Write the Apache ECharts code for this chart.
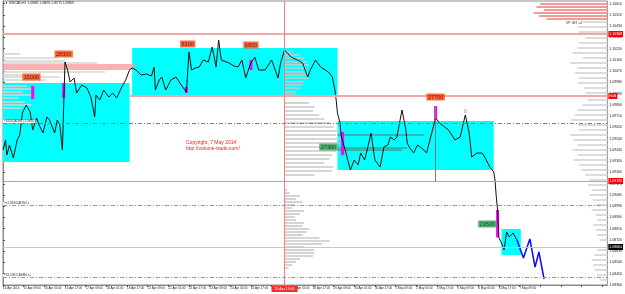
<!DOCTYPE html>
<html>
<head>
<meta charset="utf-8">
<script src="https://cdn.jsdelivr.net/npm/echarts/dist/echarts.min.js"></script>
<style>
  html, body { margin: 0; padding: 0; background: #fff; }
  #chart { width: 625px; height: 294px; }
</style>
</head>
<body>
<div id="chart"></div>
<script>
// time axis: one category label every 16 H1 bars
const timeLabels = ['14 Apr 2014', '15 Apr 09:00', '16 Apr 01:00', '16 Apr 17:00', '17 Apr 09:00',
  '18 Apr 01:00', '18 Apr 17:00', '21 Apr 09:00', '22 Apr 01:00', '22 Apr 17:00', '23 Apr 09:00',
  '24 Apr 01:00', '24 Apr 17:00', '25 Apr 09:00', '28 Apr 01:00', '28 Apr 17:00', '29 Apr 09:00',
  '30 Apr 01:00', '30 Apr 17:00', '1 May 09:00', '2 May 01:00', '2 May 17:00', '5 May 09:00',
  '6 May 01:00', '6 May 17:00', '7 May 09:00'];
const barsPerLabel = 16;
const totalBars = 468;

// [bar, price]
const pricePath = [
  [0, 1.0944], [2, 1.0952], [3, 1.094], [5, 1.0948], [8, 1.09376], [11, 1.0952], [13, 1.0956],
  [15, 1.09736], [18, 1.098], [21, 1.09744], [23, 1.096], [26, 1.09696], [28, 1.0964], [31, 1.09576],
  [34, 1.09704], [36, 1.0968], [40, 1.09576], [42, 1.0968], [44, 1.0964], [46, 1.0944], [48, 1.10144],
  [50, 1.1008], [52, 1.09984], [55, 1.10016], [57, 1.09896], [61, 1.0996], [65, 1.09936], [68, 1.09864],
  [71, 1.09704], [72, 1.0988], [75, 1.0984], [78, 1.0992], [82, 1.09864], [85, 1.09896], [88, 1.09856],
  [92, 1.09944], [95, 1.1], [98, 1.1008], [100, 1.10096],
  [103, 1.1008], [107, 1.1004], [111, 1.10048], [115, 1.10032], [117, 1.10104], [118, 1.0992], [121, 1.1],
  [123, 1.10024], [126, 1.0992], [130, 1.1], [134, 1.10024], [138, 1.0996], [142, 1.09904], [144, 1.10224],
  [146, 1.1008], [149, 1.10096], [152, 1.10104], [155, 1.1016], [159, 1.10144], [162, 1.10264],
  [165, 1.10104], [167, 1.1032], [169, 1.1016], [175, 1.10136], [179, 1.10112], [182, 1.10104],
  [185, 1.1016], [188, 1.10016], [190, 1.1008], [192, 1.10136], [195, 1.10184], [198, 1.1008],
  [203, 1.1008], [208, 1.1016], [213, 1.10016], [215, 1.10136], [218, 1.1024], [223, 1.10184],
  [228, 1.1016], [232, 1.10136], [236, 1.10024], [238, 1.1008], [242, 1.1016], [246, 1.10104],
  [252, 1.10064], [255, 1.10024], [257, 1.0992], [258, 1.0984],
  [259, 1.09736], [261, 1.09656], [262, 1.09544], [265, 1.0944], [267, 1.0936], [269, 1.0928],
  [272, 1.0936], [275, 1.0932], [277, 1.09416], [280, 1.0936], [282, 1.0944], [285, 1.09576],
  [288, 1.0936], [292, 1.09304], [295, 1.09464], [298, 1.0948], [300, 1.09544], [303, 1.0952],
  [305, 1.09544], [309, 1.0976], [312, 1.096], [313, 1.09496], [315, 1.09456], [318, 1.09416],
  [321, 1.0948], [323, 1.09464], [326, 1.0944], [328, 1.09416], [332, 1.09576], [335, 1.09696],
  [338, 1.09656], [342, 1.09624], [345, 1.096], [350, 1.0952], [354, 1.09544], [358, 1.0972],
  [361, 1.09576], [363, 1.09384], [367, 1.09416], [371, 1.09416], [373, 1.09384], [377, 1.09304],
  [380, 1.09264], [381, 1.092], [382, 1.09064], [383, 1.0896], [384, 1.0874], [386, 1.08696],
  [388, 1.0864], [390, 1.08784], [392, 1.08744], [395, 1.08776], [398, 1.0872]
];
const projection = [[398, 1.0872], [403, 1.08576], [408, 1.08728], [412, 1.08504], [415, 1.08624], [419, 1.08408]];

// [fromBar, toBar, low, high]
const zones = [[0, 98, 1.09344, 1.09976], [100, 259, 1.0988, 1.10256], [259, 380, 1.0928, 1.09672], [386, 401, 1.086, 1.08808]];
// [bar, low, high]
const spikes = [[23, 1.09848, 1.09952], [47, 1.09856, 1.09976], [142, 1.09896, 1.09944], [192, 1.1008, 1.1016],
  [263, 1.094, 1.09584], [335, 1.0968, 1.09792], [383, 1.0874, 1.0896]];

const redTags = [[22, 1.10024, '15000'], [47, 1.10208, '28300'], [143, 1.10288, '8300'], [192, 1.1028, '6800'], [335, 1.09864, '27700']];
const greenTags = [[252, 1.09464, '27300'], [375, 1.08848, '29500']];

// volume profiles: price level, volume (in bars)
const rightHotPrice = [1.10608, 1.10584, 1.1056, 1.10536, 1.10512, 1.10488];
const rightHotVol = [52, 55, 49, 57, 53, 47];
const rightPrice = [1.10464, 1.10424, 1.10384, 1.10336, 1.10296, 1.10256, 1.10216, 1.10176, 1.10136, 1.10096,
  1.10056, 1.10016, 1.09976, 1.09936, 1.09896, 1.0984, 1.098, 1.0976, 1.0972, 1.0968, 1.0964, 1.096, 1.0956,
  1.0952, 1.0948, 1.0944, 1.094, 1.0936, 1.0932, 1.0928, 1.0924, 1.092, 1.0916, 1.0912, 1.0908, 1.0904, 1.09,
  1.0896, 1.0892, 1.0888, 1.0884, 1.088, 1.0876, 1.0872, 1.0864, 1.086, 1.0856, 1.0852, 1.0848, 1.0844, 1.084];
const rightVol = [19, 23, 22, 17, 22, 23, 27, 19, 29, 23, 25, 22, 23, 18, 17, 15, 19, 23, 25, 28, 23, 22, 29,
  26, 23, 27, 23, 26, 22, 20, 17, 14, 15, 12, 14, 11, 9, 12, 9, 8, 11, 9, 8, 6, 8, 10, 12, 11, 10, 8, 6];
const midPrice = [1.10224, 1.102, 1.10176, 1.10144, 1.1012, 1.10096, 1.10064, 1.1004, 1.10016, 1.09984, 1.0996,
  1.09936, 1.09904, 1.0988, 1.09816, 1.09784, 1.09752, 1.0972, 1.09688, 1.09656, 1.09624, 1.09592, 1.0956,
  1.09528, 1.09496, 1.09464, 1.09432, 1.094, 1.09368, 1.09336, 1.09304, 1.09272, 1.0924, 1.0912, 1.09096,
  1.09072, 1.09048, 1.09024, 1.09, 1.08976, 1.08952, 1.08928, 1.08904, 1.0888, 1.08856, 1.08832, 1.08808,
  1.08784, 1.0876, 1.08736, 1.08712, 1.08688, 1.08664, 1.0864, 1.08616, 1.08592, 1.08568, 1.08544, 1.0852, 1.08496];
const midVol = [6, 12, 15, 17, 19, 17, 15, 19, 18, 15, 14, 12, 9, 8, 19, 23, 22, 27, 31, 35, 38, 42, 40, 46, 42,
  38, 40, 37, 35, 31, 38, 37, 23, 2, 4, 12, 9, 14, 8, 6, 15, 12, 8, 9, 15, 14, 19, 17, 14, 27, 35, 29, 15, 23,
  23, 22, 12, 9, 6, 3];
const leftHotPrice = [1.1012, 1.10104, 1.10088];
const leftHotVol = [102, 102, 100];
const leftPrice = [1.10208, 1.10176, 1.10152, 1.10136, 1.10064, 1.1004, 1.10024, 1.1, 1.09952, 1.09928, 1.09904,
  1.0988, 1.09856, 1.09824, 1.098, 1.09776];
const leftVol = [13, 42, 48, 73, 79, 15, 44, 33, 19, 23, 15, 22, 12, 17, 22, 14];
const zonePrice = [1.0956, 1.09456, 1.0944];
const zoneVol = [67, 54, 50];

const levels = { r1: 1.10368, r2: 1.09872, s1: 1.09192, last: 1.08664, pivot: 1.09656, d1: 1.09, d2: 1.08424 };
const cursorBar = 218;

const FONT = 'Liberation Sans';
const pair = (a, b) => a.map((v, i) => [v, b[i]]);

function zoneItem(params, api) {
  const a = api.coord([api.value(0), api.value(3)]);
  const b = api.coord([api.value(1), api.value(2)]);
  return { type: 'rect', shape: { x: a[0], y: a[1], width: b[0] - a[0], height: b[1] - a[1] }, style: { fill: '#00ffff' } };
}

function profile(anchor, dir, color, thick) {
  return function (params, api) {
    const a = api.coord([anchor, api.value(0)]);
    const b = api.coord([anchor + dir * api.value(1), api.value(0)]);
    return {
      type: 'rect',
      shape: { x: Math.min(a[0], b[0]), y: a[1] - thick / 2, width: Math.abs(b[0] - a[0]), height: thick },
      style: { fill: color }
    };
  };
}

function spikeItem(params, api) {
  const top = api.coord([api.value(0), api.value(2)]);
  const bot = api.coord([api.value(0), api.value(1)]);
  return { type: 'rect', shape: { x: top[0] - 1.5, y: top[1], width: 3, height: bot[1] - top[1] }, style: { fill: '#ff00ff' } };
}

function axisTag(bg) {
  return {
    position: 'end', distance: 1, fontSize: 3.5, fontFamily: FONT, color: '#fff',
    backgroundColor: bg, padding: [1, 1], formatter: p => Number(p.value).toFixed(5)
  };
}

function lineTag(text) {
  return {
    position: 'insideStartTop', distance: 0, fontSize: 3, fontFamily: FONT, color: '#333',
    backgroundColor: '#fff', padding: [0, 1], formatter: text
  };
}

const dashDot = [4, 2, 1, 2];

const chart = echarts.init(document.getElementById('chart'));
chart.setOption({
  animation: false,
  backgroundColor: '#fff',
  grid: { left: 3, right: 14, top: 1, bottom: 9, show: true, borderColor: '#8a8a8a', borderWidth: 1 },
  xAxis: {
    type: 'value', min: 0, max: totalBars, interval: barsPerLabel,
    axisLine: { lineStyle: { color: '#8a8a8a' } },
    axisTick: { length: 2, lineStyle: { color: '#555' } },
    splitLine: { show: false },
    axisLabel: {
      fontSize: 3, fontFamily: FONT, color: '#222', margin: 2, align: 'left',
      showMaxLabel: false,
      formatter: v => timeLabels[Math.round(v / barsPerLabel)] || ''
    }
  },
  yAxis: {
    type: 'value', position: 'right', min: 1.0836, max: 1.10632, interval: 0.0009,
    axisLine: { show: true, lineStyle: { color: '#8a8a8a' } },
    axisTick: { show: true, length: 2, lineStyle: { color: '#555' } },
    splitLine: { show: false },
    axisLabel: { fontSize: 3.5, fontFamily: FONT, color: '#222', margin: 2, formatter: v => v.toFixed(5) }
  },
  graphic: [
    { type: 'text', left: 5, top: 2, style: { text: '\u25BC USDCAD,H1  1.08845 1.08835 1.08775 1.08859', fontSize: 3, fontFamily: FONT, fill: '#111' } },
    { type: 'text', left: 566, top: 21, style: { text: 'VP 087 =2', fontSize: 3.5, fontFamily: FONT, fill: '#333' } },
    { type: 'text', left: 186, top: 140, style: { text: 'Copyright, 7 May 2014\nhttp://volume-trade.com/', fontSize: 5, lineHeight: 6, fontFamily: FONT, fill: '#ff1a1a', align: 'center' } }
  ],
  series: [
    { type: 'custom', z: 1, silent: true, renderItem: zoneItem, data: zones },
    { type: 'custom', z: 2, silent: true, renderItem: profile(totalBars, -1, '#dcdcdc', 2), data: pair(rightPrice, rightVol) },
    { type: 'custom', z: 2, silent: true, renderItem: profile(totalBars, -1, '#f29a9a', 2), data: pair(rightHotPrice, rightHotVol) },
    { type: 'custom', z: 2, silent: true, renderItem: profile(cursorBar, 1, '#c8c8c8', 1.6), data: pair(midPrice, midVol) },
    { type: 'custom', z: 2, silent: true, renderItem: profile(0, 1, '#d4d4d4', 1.6), data: pair(leftPrice, leftVol) },
    { type: 'custom', z: 2, silent: true, renderItem: profile(0, 1, '#f29a9a', 1.6), data: pair(leftHotPrice, leftHotVol) },
    { type: 'custom', z: 2, silent: true, renderItem: profile(259, 1, '#6a6a6a', 1), data: pair(zonePrice, zoneVol) },
    { type: 'custom', z: 3, silent: true, renderItem: spikeItem, data: spikes },
    {
      type: 'line', z: 4, data: pricePath, showSymbol: false, silent: true,
      lineStyle: { color: '#111', width: 1 },
      markLine: {
        silent: true, symbol: 'none', animation: false, precision: 5,
        data: [
          { yAxis: levels.r1, lineStyle: { color: '#f4a6a6', width: 2, type: 'solid' }, label: axisTag('#ff0000') },
          [
            { coord: [98, levels.r2], lineStyle: { color: '#f4a6a6', width: 2, type: 'solid' }, label: axisTag('#ff0000') },
            { coord: [totalBars, levels.r2] }
          ],
          { yAxis: levels.s1, lineStyle: { color: '#f08c8c', width: 1, type: 'solid' }, label: axisTag('#ff0000') },
          { yAxis: levels.last, lineStyle: { color: '#c8c8c8', width: 1, type: 'solid' }, label: axisTag('#000') },
          { yAxis: levels.pivot, lineStyle: { color: '#5a9a5a', width: 1, type: dashDot }, label: lineTag('\u00ABUSDCADM4 (1.0966)') },
          { yAxis: levels.d1, lineStyle: { color: '#f08050', width: 1, type: dashDot }, label: lineTag('\u00ABs1 USDCADW4 s') },
          { yAxis: levels.d2, lineStyle: { color: '#f08050', width: 1, type: dashDot }, label: lineTag('\u00ABS1 USDCADM4 ss') },
          {
            xAxis: cursorBar, lineStyle: { color: '#f08080', width: 1, type: 'solid' },
            label: { position: 'start', distance: 1, formatter: '25 Apr 19:00', fontSize: 3.5, fontFamily: FONT, color: '#fff', backgroundColor: '#ff2a2a', padding: [1, 3] }
          },
          [
            { coord: [335, 1.09792], lineStyle: { color: '#7a7a7a', width: 1, type: 'solid' }, label: { show: false } },
            { coord: [335, levels.s1] }
          ]
        ]
      }
    },
    { type: 'line', z: 4, data: projection, showSymbol: false, silent: true, lineStyle: { color: '#0a0aff', width: 1.5 } },
    {
      type: 'scatter', z: 5, symbolSize: 0, silent: true, data: redTags,
      label: { show: true, position: 'inside', formatter: p => p.data[2], fontSize: 5.5, fontFamily: FONT, color: '#3a0000', backgroundColor: '#ff4a14', padding: [0.5, 1.5] }
    },
    {
      type: 'scatter', z: 5, symbolSize: 0, silent: true, data: greenTags,
      label: { show: true, position: 'inside', formatter: p => p.data[2], fontSize: 5.5, fontFamily: FONT, color: '#072a10', backgroundColor: '#2fa055', padding: [0.5, 1.5] }
    },
    {
      type: 'scatter', z: 5, symbolSize: 0, silent: true, data: [[358, 1.09744, '0']],
      label: { show: true, position: 'inside', formatter: p => p.data[2], fontSize: 5, fontFamily: FONT, color: '#ff3030' }
    }
  ]
});
</script>
</body>
</html>
